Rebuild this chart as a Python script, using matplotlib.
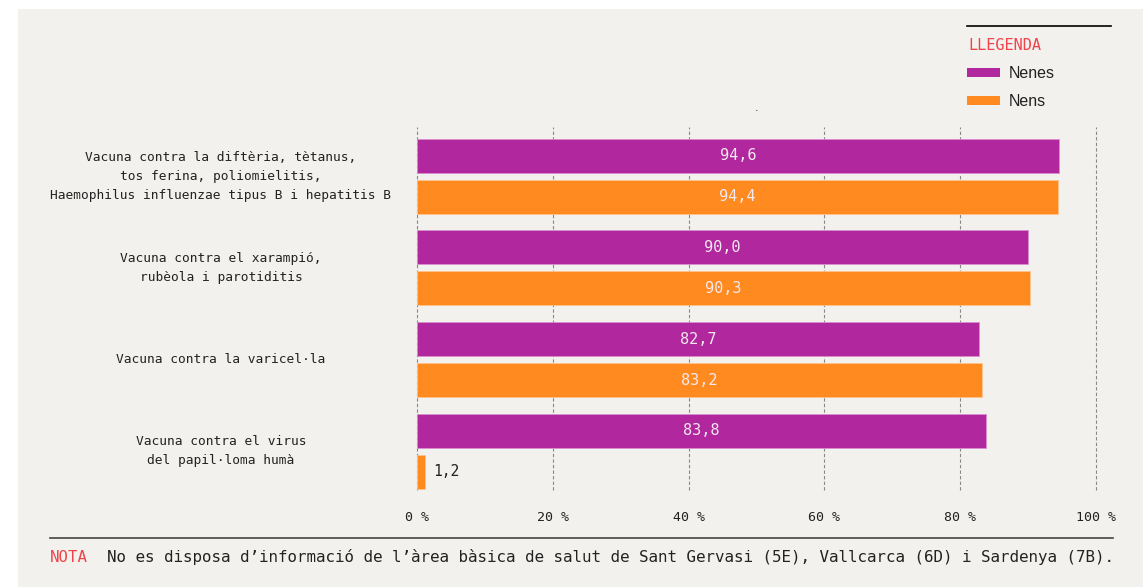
import matplotlib.pyplot as plt
import matplotlib.transforms as mtransforms
from matplotlib.patches import Rectangle
from matplotlib.lines import Line2D

# Dades
categories = [
    "Vacuna contra la diftèria, tètanus,\ntos ferina, poliomielitis,\nHaemophilus influenzae tipus B i hepatitis B",
    "Vacuna contra el xarampió,\nrubèola i parotiditis",
    "Vacuna contra la varicel·la",
    "Vacuna contra el virus\ndel papil·loma humà",
]
nenes = [94.6, 90.0, 82.7, 83.8]
nens = [94.4, 90.3, 83.2, 1.2]
xticks = [0, 20, 40, 60, 80, 100]
xticklabels = ["0 %", "20 %", "40 %", "60 %", "80 %", "100 %"]

c_nenes = "#B0279E"
c_nens = "#FF8A1F"
c_red = "#F0424A"
c_text = "#222222"
mono = "DejaVu Sans Mono"

fig = plt.figure(figsize=(11.43, 5.87), dpi=100)
fig.patch.set_facecolor("white")
fig.patches.append(Rectangle((18 / 1143, 0), 1, 1 - 9 / 587, transform=fig.transFigure,
                             facecolor="#f2f1ed", edgecolor="none", zorder=-10))

ax = fig.add_axes([0.3648, 0.1652, 0.9589 - 0.3648, 0.7836 - 0.1652])
ax.set_facecolor("none")

ys = list(range(len(categories)))
off = 0.223
h = 0.37
ax.barh([y - off for y in ys], nenes, height=h, color=c_nenes, edgecolor="#d98fcf", linewidth=0.6, zorder=3)
ax.barh([y + off for y in ys], nens, height=h, color=c_nens, edgecolor="#ffc28a", linewidth=0.6, zorder=3)

def label(y, v):
    s = f"{v:.1f}".replace(".", ",")
    if v < 10:
        ax.text(v + 1.2, y, s, ha="left", va="center", color=c_text, fontsize=10.5, family=mono, zorder=4)
    else:
        ax.text(v / 2, y, s, ha="center", va="center", color="#f3e9f0", fontsize=11, family=mono, zorder=4)

for y, v in zip(ys, nenes):
    label(y - off, v)
for y, v in zip(ys, nens):
    label(y + off, v)

ax.set_xlim(0, 100)
ax.set_ylim(3.42, -0.534)
ax.set_xticks(xticks)
ax.set_xticklabels(xticklabels, family=mono, fontsize=9.5, color=c_text)
ax.tick_params(axis="x", length=0, pad=15)
ax.set_yticks([])
ax.grid(axis="x", color="#888888", linestyle=(0, (3, 2)), linewidth=0.8, zorder=0)
for gl in ax.get_xgridlines():
    gl.set_clip_on(False)
for s in ax.spines.values():
    s.set_visible(False)

# Etiquetes de categoria
tr = mtransforms.blended_transform_factory(fig.transFigure, ax.transData)
for y, cat in zip(ys, categories):
    ax.text(221 / 1143, y, cat, transform=tr, ha="center", va="center", fontsize=9.3,
            family=mono, color=c_text, linespacing=1.6)

# Llegenda
fig.add_artist(Line2D([967 / 1143, 1111 / 1143], [1 - 26 / 587] * 2, color="black", linewidth=1.2))
fig.text(968 / 1143, 1 - 45 / 587, "LLEGENDA", color=c_red, fontsize=11, family=mono, va="center", ha="left")
for yy, c, t in [(73, c_nenes, "Nenes"), (101, c_nens, "Nens")]:
    fig.patches.append(Rectangle((967 / 1143, 1 - (yy + 4) / 587), 33 / 1143, 9 / 587,
                                 transform=fig.transFigure, facecolor=c, edgecolor="none"))
    fig.text(1009 / 1143, 1 - yy / 587, t, color=c_text, fontsize=11.5, family="Liberation Sans",
             va="center", ha="left")
fig.text(757 / 1143, 1 - 108 / 587, ".", color=c_text, fontsize=8, ha="center", va="center")

# Nota
fig.add_artist(Line2D([50 / 1143, 1113 / 1143], [1 - 538 / 587] * 2, color="#444444", linewidth=1.2))
fig.text(50 / 1143, 1 - 557 / 587, "NOTA", color=c_red, fontsize=11.3, family=mono, va="center", ha="left")
fig.text(107 / 1143, 1 - 557 / 587,
         "No es disposa d’informació de l’àrea bàsica de salut de Sant Gervasi (5E), Vallcarca (6D) i Sardenya (7B).",
         color=c_text, fontsize=11.4, family=mono, va="center", ha="left")

fig.savefig("out.png", dpi=100)
